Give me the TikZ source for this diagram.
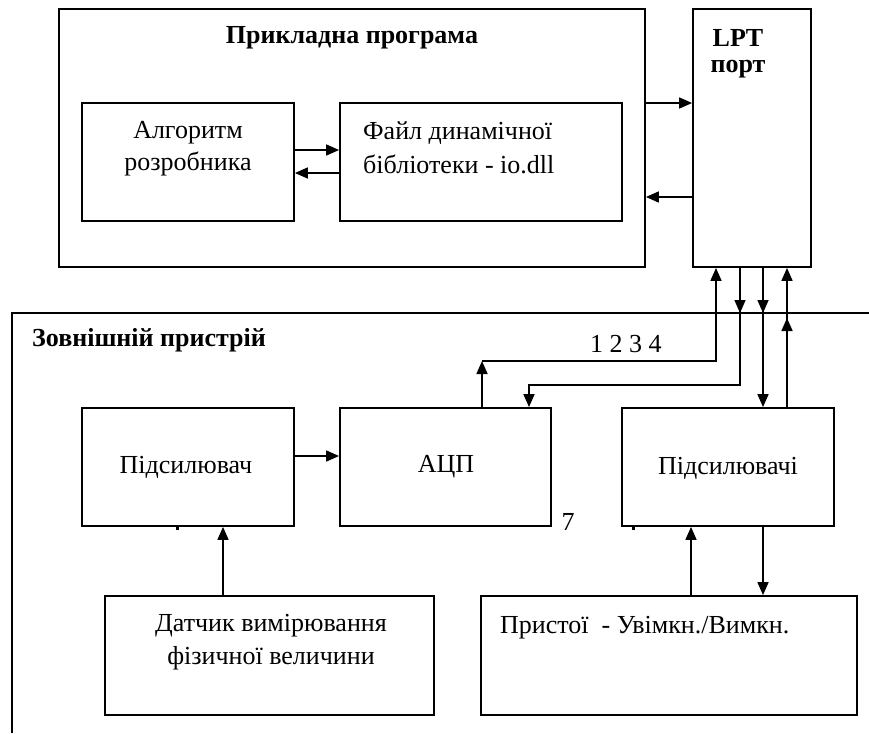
\documentclass[tikz,border=0pt]{standalone}
\usepackage{fontspec}
\setmainfont{Liberation Serif}
\usetikzlibrary{arrows.meta}
\begin{document}
\begin{tikzpicture}[x=1pt,y=-1pt,
  box/.style={draw, line width=1.8pt, inner sep=0pt},
  txt/.style={inner sep=0pt, font=\fontsize{26}{31}\selectfont},
  btxt/.style={inner sep=0pt, font=\fontsize{26}{33}\selectfont\bfseries},
  ln/.style={line width=1.6pt},
  arr/.style={line width=1.6pt, -{Triangle[length=13pt,width=11pt]}}]
\useasboundingbox (0,0) rectangle (869,733);
% frame of external device
\draw[line width=1.5pt] (12,733) -- (12,313) -- (869,313);
% boxes
\node[box, minimum width=586pt, minimum height=258pt] (prog) at (352,138) {};
\node[box, minimum width=118pt, minimum height=258pt] (lpt) at (752,138) {};
\node[box, minimum width=212pt, minimum height=118pt] (alg) at (188,162) {};
\node[box, minimum width=282pt, minimum height=118pt] (dll) at (481,162) {};
\node[box, minimum width=212pt, minimum height=118pt] (amp) at (188,467) {};
\node[box, minimum width=211pt, minimum height=118pt] (adc) at (445.5,467) {};
\node[box, minimum width=212pt, minimum height=118pt] (amps) at (728,467) {};
\node[box, minimum width=329pt, minimum height=119pt] (sens) at (269.5,655.5) {};
\node[box, minimum width=376pt, minimum height=119pt] (dev) at (669,655.5) {};
% texts
\node[btxt] (tprog) at (352,38) {Прикладна програма};
\node[btxt] (tlpt1) at (738,38) {LPT};
\node[btxt] (tlpt2) at (738,69) {порт};
\node[txt] (talg1) at (188,133) {Алгоритм};
\node[txt] (talg2) at (188,164) {розробника};
\node[txt, anchor=west] (tdll1) at (363,133) {Файл динамічної};
\node[txt, anchor=west] (tdll2) at (363,164) {бібліотеки - io.dll};
\node[btxt, anchor=west] (text) at (32,340) {Зовнішній пристрій};
\node[txt, anchor=west] (tnum) at (590,344) {1 2 3 4};
\node[txt] (tamp) at (186,467) {Підсилювач};
\node[txt] (tadc) at (446,467) {АЦП};
\node[txt] (tamps) at (728,468) {Підсилювачі};
\node[txt] (t7) at (568,522) {7};
\node[txt] (tsens1) at (271,626) {Датчик вимірювання};
\node[txt] (tsens2) at (271,658) {фізичної величини};
\node[txt, anchor=west] (tdev) at (500,628) {Пристої\ \ -\ Увімкн./Вимкн.};
% small marks
\fill (176,526) rectangle (179,530);
\fill (632,526) rectangle (635,530);
% connectors inside program
\draw[arr] (alg.east |- 0,150) -- (dll.west |- 0,150);
\draw[arr] (dll.west |- 0,173) -- (alg.east |- 0,173);
\draw[arr] (prog.east |- 0,103) -- (lpt.west |- 0,103);
\draw[arr] (lpt.west |- 0,197) -- (prog.east |- 0,197);
% middle row
\draw[arr] (amp.east |- 0,456) -- (adc.west |- 0,456);
\draw[arr] (sens.north -| 223,0) -- (amp.south -| 223,0);
\draw[arr] (dev.north -| 691,0) -- (amps.south -| 691,0);
\draw[arr] (amps.south -| 763,0) -- (dev.north -| 763,0);
% LPT lines
\coordinate (k1) at (482,361);
\coordinate (k1b) at (716,361);
\draw[arr] (adc.north -| k1) -- (k1);
\draw[arr] (k1) -- (k1b) -- (lpt.south -| k1b);
\coordinate (k2) at (740,385);
\coordinate (k2b) at (529,385);
\coordinate (m2) at (740,313);
\draw[arr] (lpt.south -| k2) -- (k2) -- (k2b) -- (adc.north -| k2b);
\draw[arr] (lpt.south -| m2) -- (m2);
\coordinate (m3) at (763,313);
\draw[arr] (lpt.south -| m3) -- (amps.north -| m3);
\draw[arr] (lpt.south -| m3) -- (m3);
\coordinate (m4) at (787,318);
\draw[arr] (amps.north -| m4) -- (lpt.south -| m4);
\draw[arr] (amps.north -| m4) -- (m4);
\end{tikzpicture}
\end{document}
